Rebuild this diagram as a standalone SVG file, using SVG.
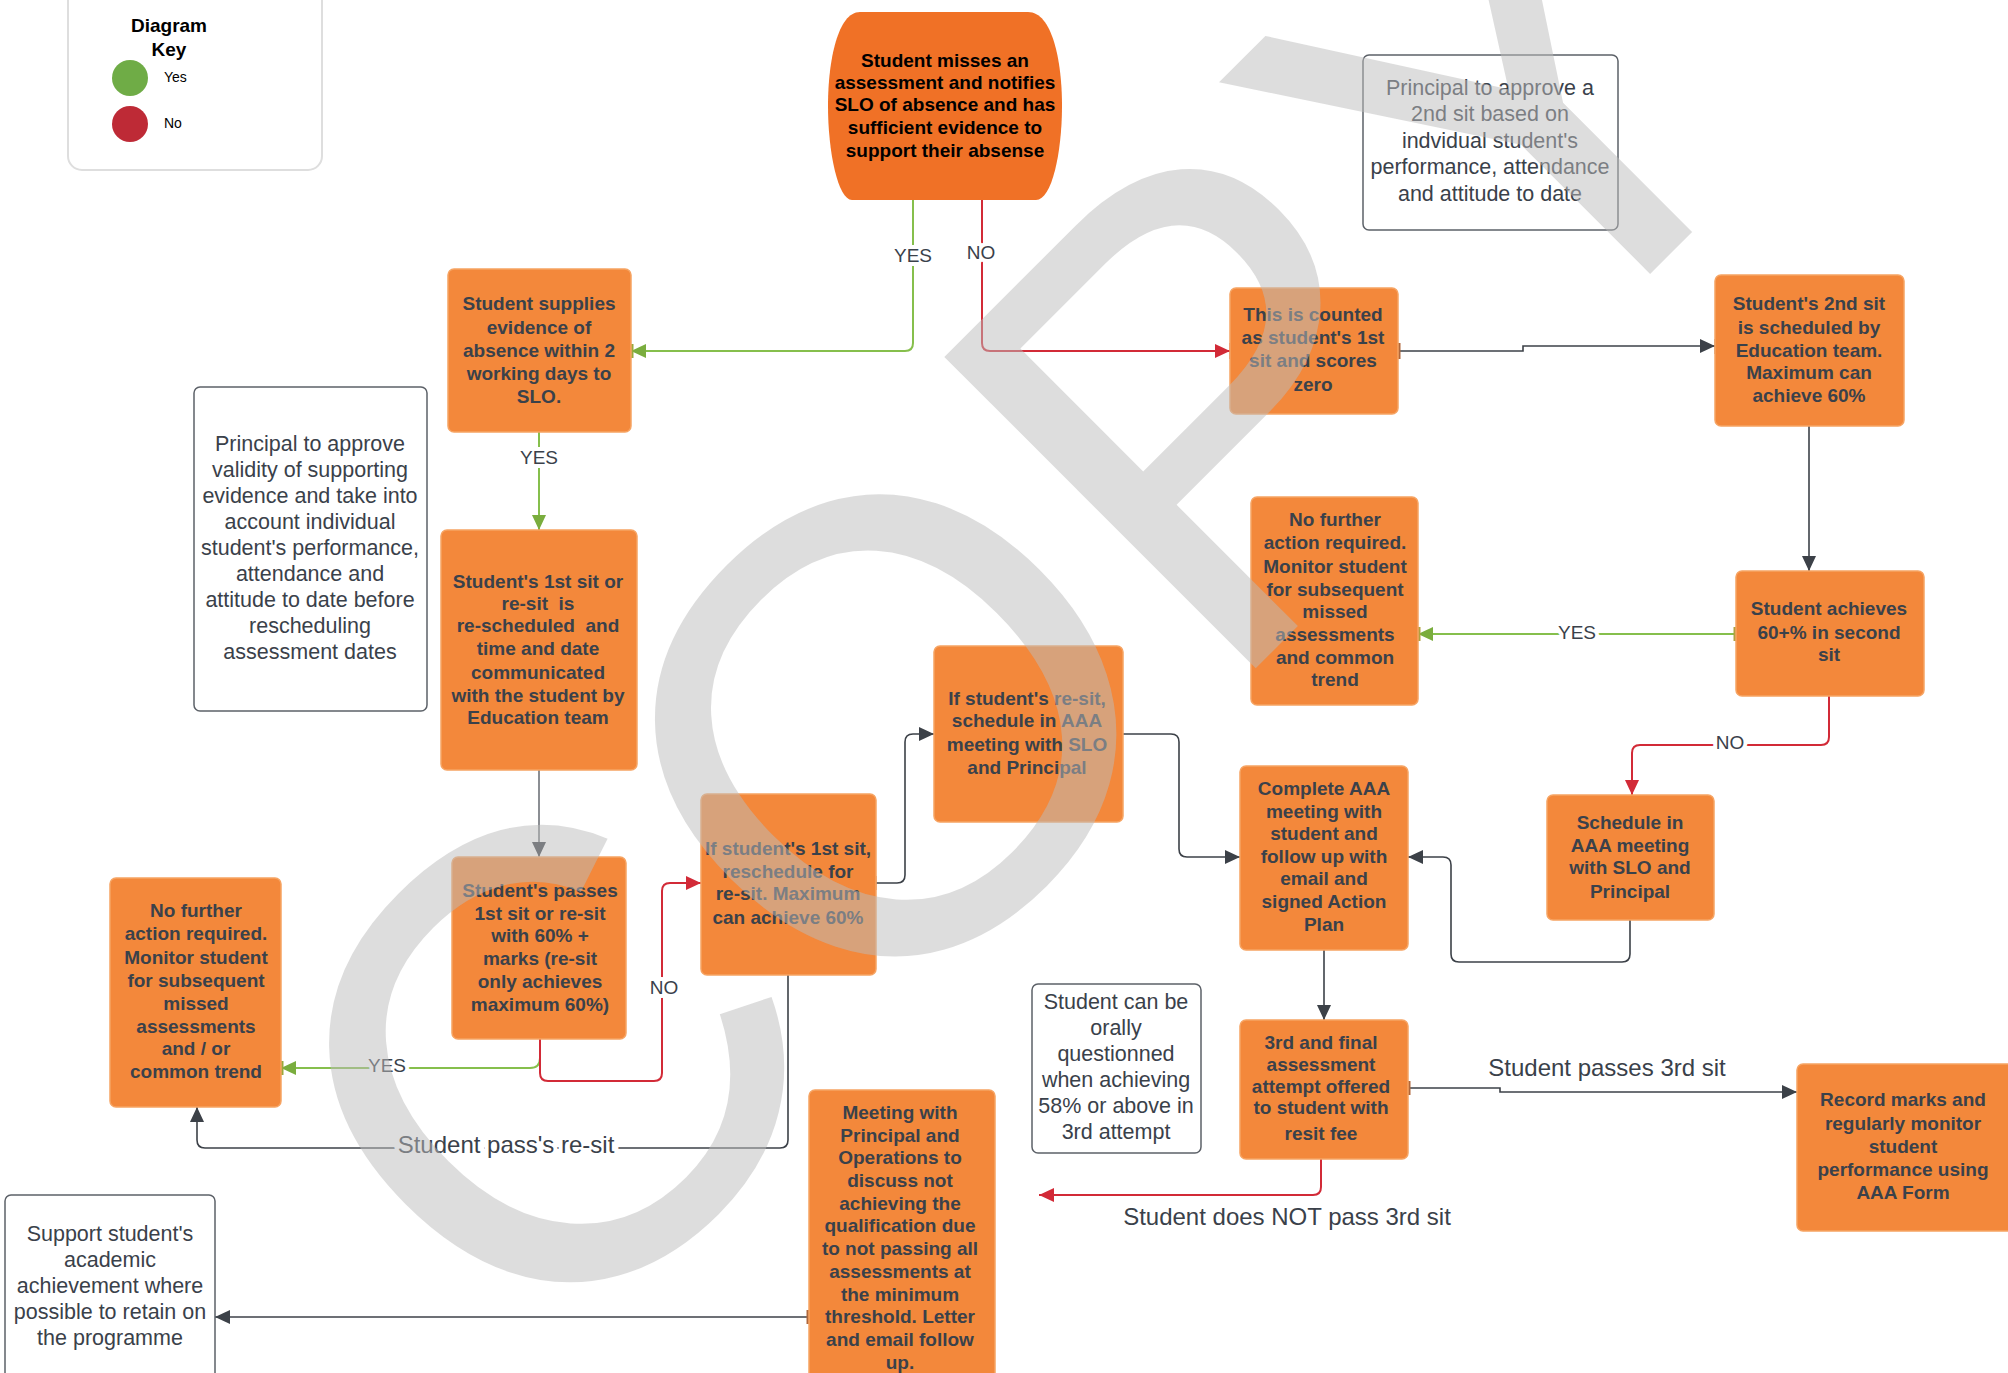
<svg xmlns="http://www.w3.org/2000/svg" width="2008" height="1373" viewBox="0 0 2008 1373">
<defs>
<style>
.box{fill:#f3883b;stroke:#f6a463;stroke-width:1.5}
.note{fill:#fff;stroke:#5c6168;stroke-width:1.5}
.bt{font-family:"Liberation Sans",Arial,sans-serif;font-weight:bold;font-size:19px;fill:#3a414a;text-anchor:middle}
.rt{font-family:"Liberation Sans",Arial,sans-serif;font-size:21.5px;fill:#3a414a;text-anchor:middle}
.lbl{font-family:"Liberation Sans",Arial,sans-serif;font-size:19px;fill:#3a414a;text-anchor:middle;stroke:#fff;stroke-width:8px;paint-order:stroke;stroke-linejoin:round}
.big{font-family:"Liberation Sans",Arial,sans-serif;font-size:24px;fill:#3a414a;text-anchor:middle}
.g{fill:none;stroke:#86bf4c;stroke-width:2}
.r{fill:none;stroke:#d22a37;stroke-width:2}
.d{fill:none;stroke:#3c4148;stroke-width:1.6}
.tk{stroke-width:3;fill:none}
</style>
<marker id="ag" markerUnits="userSpaceOnUse" markerWidth="16" markerHeight="14" refX="15" refY="7" orient="auto"><path d="M0,0 L15,7 L0,14 z" fill="#7aad3e"/></marker>
<marker id="ar" markerUnits="userSpaceOnUse" markerWidth="16" markerHeight="14" refX="15" refY="7" orient="auto"><path d="M0,0 L15,7 L0,14 z" fill="#d22a37"/></marker>
<marker id="ad" markerUnits="userSpaceOnUse" markerWidth="16" markerHeight="14" refX="15" refY="7" orient="auto"><path d="M0,0 L15,7 L0,14 z" fill="#3c4148"/></marker>
</defs>
<rect width="2008" height="1373" fill="#fff"/>

<g id="key">
<rect x="68" y="-20" width="254" height="190" rx="14" fill="#fff" stroke="#dedede" stroke-width="2"/>
<text x="169" y="32" class="bt" style="fill:#000">Diagram</text>
<text x="169" y="56" class="bt" style="fill:#000">Key</text>
<circle cx="130" cy="78" r="18" fill="#6fac46"/>
<circle cx="130" cy="124" r="18" fill="#be2a36"/>
<text x="164" y="82" font-family="Liberation Sans,Arial,sans-serif" font-size="14" fill="#000">Yes</text>
<text x="164" y="128" font-family="Liberation Sans,Arial,sans-serif" font-size="14" fill="#000">No</text>
</g>

<g id="connectors">
<path class="g" d="M913,200 V343 Q913,351 905,351 H631" marker-end="url(#ag)"/>
<text x="913" y="262" class="lbl">YES</text>
<path class="r" d="M982,200 V343 Q982,351 990,351 H1230" marker-end="url(#ar)"/>
<text x="981" y="259" class="lbl">NO</text>
<path class="d" d="M1398,351 H1523 V346 H1715" marker-end="url(#ad)"/>
<path class="g" d="M539,432 V530" marker-end="url(#ag)"/>
<text x="539" y="464" class="lbl">YES</text>
<path class="d" d="M539,770 V857" style="stroke:#6e7278" marker-end="url(#ad)"/>
<path class="g" d="M540,1039 V1058 Q540,1068 530,1068 H281" marker-end="url(#ag)"/>
<text x="387" y="1072" class="lbl">YES</text>
<path class="r" d="M540,1039 V1073 Q540,1081 548,1081 H654 Q662,1081 662,1073 V891 Q662,883 670,883 H701" marker-end="url(#ar)"/>
<text x="664" y="994" class="lbl">NO</text>
<path class="d" d="M876,883 H897 Q905,883 905,875 V742 Q905,734 913,734 H934" marker-end="url(#ad)"/>
<path class="d" d="M788,975 V1140 Q788,1148 780,1148 H205 Q197,1148 197,1140 V1107" marker-end="url(#ad)"/>
<text x="506" y="1153" class="big" style="stroke:#fff;stroke-width:8px;paint-order:stroke">Student pass's re-sit</text>
<path class="d" d="M1123,734 H1171 Q1179,734 1179,742 V849 Q1179,857 1187,857 H1240" marker-end="url(#ad)"/>
<path class="d" d="M1809,426 V571" marker-end="url(#ad)"/>
<path class="g" d="M1736,634 H1418" marker-end="url(#ag)"/>
<text x="1577" y="639" class="lbl">YES</text>
<path class="r" d="M1829,696 V737 Q1829,745 1821,745 H1640 Q1632,745 1632,753 V795" marker-end="url(#ar)"/>
<text x="1730" y="749" class="lbl">NO</text>
<path class="d" d="M1630,920 V954 Q1630,962 1622,962 H1459 Q1451,962 1451,954 V865 Q1451,857 1443,857 H1408" marker-end="url(#ad)"/>
<path class="d" d="M1324,950 V1020" marker-end="url(#ad)"/>
<path class="d" d="M1408,1088 H1500 V1092 H1797" marker-end="url(#ad)"/>
<text x="1607" y="1076" class="big">Student passes 3rd sit</text>
<path class="r" d="M1321,1159 V1187 Q1321,1195 1313,1195 H1039" marker-end="url(#ar)"/>
<text x="1287" y="1225" class="big">Student does NOT pass 3rd sit</text>
<path class="d" d="M809,1317 H215" marker-end="url(#ad)"/>
<path class="tk" stroke="#d22a37" d="M1231,343 V359"/>
<path class="tk" stroke="#9aa83c" d="M632,344 V358"/>
<path class="tk" stroke="#b0673a" d="M1399,343 V359"/>
<path class="tk" stroke="#8a5a3a" d="M1716,339 V354"/>
<path class="tk" stroke="#b0a040" d="M1735,627 V641"/>
<path class="tk" stroke="#b0a040" d="M1419,627 V641"/>
<path class="tk" stroke="#9aa83c" d="M282,1061 V1075"/>
<path class="tk" stroke="#b0673a" d="M875,876 V890"/>
<path class="tk" stroke="#b0673a" d="M1409,1081 V1095"/>
<path class="tk" stroke="#b0673a" d="M808,1310 V1324"/>
</g>

<g id="start">
<path d="M860,12 H1028 C1052,12 1062,60 1062,106 C1062,152 1052,200 1036,200 H852 C838,200 828,152 828,106 C828,60 838,12 860,12 Z" fill="#f07126"/>
<text class="bt" style="fill:#000"><tspan x="945" y="67">Student misses an</tspan><tspan x="945" y="89">assessment and notifies</tspan><tspan x="945" y="111">SLO of absence and has</tspan><tspan x="945" y="134">sufficient evidence to</tspan><tspan x="945" y="157">support their absense</tspan></text>
</g>

<g id="supplies">
<rect class="box" x="448" y="269" width="183" height="163" rx="6"/>
<text class="bt"><tspan x="539" y="310">Student supplies</tspan><tspan x="539" y="334">evidence of</tspan><tspan x="539" y="357">absence within 2</tspan><tspan x="539" y="380">working days to</tspan><tspan x="539" y="403">SLO.</tspan></text>
</g>

<g id="principal-validity">
<rect class="note" x="194" y="387" width="233" height="324" rx="6"/>
<text class="rt"><tspan x="310" y="451">Principal to approve</tspan><tspan x="310" y="477">validity of supporting</tspan><tspan x="310" y="503">evidence and take into</tspan><tspan x="310" y="529">account individual</tspan><tspan x="310" y="555">student's performance,</tspan><tspan x="310" y="581">attendance and</tspan><tspan x="310" y="607">attitude to date before</tspan><tspan x="310" y="633">rescheduling</tspan><tspan x="310" y="659">assessment dates</tspan></text>
</g>

<g id="rescheduled">
<rect class="box" x="441" y="530" width="196" height="240" rx="6"/>
<text class="bt"><tspan x="538" y="588">Student's 1st sit or</tspan><tspan x="538" y="610">re-sit &#160;is</tspan><tspan x="538" y="632">re-scheduled &#160;and</tspan><tspan x="538" y="655">time and date</tspan><tspan x="538" y="679">communicated</tspan><tspan x="538" y="702">with the student by</tspan><tspan x="538" y="724">Education team</tspan></text>
</g>

<g id="passes">
<rect class="box" x="452" y="857" width="174" height="182" rx="6"/>
<text class="bt"><tspan x="540" y="897">Student's passes</tspan><tspan x="540" y="920">1st sit or re-sit</tspan><tspan x="540" y="942">with 60% +</tspan><tspan x="540" y="965">marks (re-sit</tspan><tspan x="540" y="988">only achieves</tspan><tspan x="540" y="1011">maximum 60%)</tspan></text>
</g>

<g id="no-further-left">
<rect class="box" x="110" y="878" width="171" height="229" rx="6"/>
<text class="bt"><tspan x="196" y="917">No further</tspan><tspan x="196" y="940">action required.</tspan><tspan x="196" y="964">Monitor student</tspan><tspan x="196" y="987">for subsequent</tspan><tspan x="196" y="1010">missed</tspan><tspan x="196" y="1033">assessments</tspan><tspan x="196" y="1055">and / or</tspan><tspan x="196" y="1078">common trend</tspan></text>
</g>

<g id="if-first-sit">
<rect class="box" x="701" y="794" width="175" height="181" rx="6"/>
<text class="bt"><tspan x="788" y="855">If student's 1st sit,</tspan><tspan x="788" y="878">reschedule for</tspan><tspan x="788" y="900">re-sit. Maximum</tspan><tspan x="788" y="924">can achieve 60%</tspan></text>
</g>

<g id="if-resit">
<rect class="box" x="934" y="646" width="189" height="176" rx="6"/>
<text class="bt"><tspan x="1027" y="705">If student's re-sit,</tspan><tspan x="1027" y="727">schedule in AAA</tspan><tspan x="1027" y="751">meeting with SLO</tspan><tspan x="1027" y="774">and Principal</tspan></text>
</g>

<g id="counted">
<rect class="box" x="1230" y="288" width="168" height="126" rx="6"/>
<text class="bt"><tspan x="1313" y="321">This is counted</tspan><tspan x="1313" y="344">as student's 1st</tspan><tspan x="1313" y="367">sit and scores</tspan><tspan x="1313" y="391">zero</tspan></text>
</g>

<g id="principal-second">
<rect class="note" x="1363" y="55" width="255" height="175" rx="6"/>
<text class="rt"><tspan x="1490" y="95">Principal to approve a</tspan><tspan x="1490" y="121">2nd sit based on</tspan><tspan x="1490" y="148">indvidual student's</tspan><tspan x="1490" y="174">performance, attendance</tspan><tspan x="1490" y="201">and attitude to date</tspan></text>
</g>

<g id="second-sit">
<rect class="box" x="1715" y="275" width="189" height="151" rx="6"/>
<text class="bt"><tspan x="1809" y="310">Student's 2nd sit</tspan><tspan x="1809" y="334">is scheduled by</tspan><tspan x="1809" y="357">Education team.</tspan><tspan x="1809" y="379">Maximum can</tspan><tspan x="1809" y="402">achieve 60%</tspan></text>
</g>

<g id="no-further-right">
<rect class="box" x="1251" y="497" width="167" height="208" rx="6"/>
<text class="bt"><tspan x="1335" y="526">No further</tspan><tspan x="1335" y="549">action required.</tspan><tspan x="1335" y="573">Monitor student</tspan><tspan x="1335" y="596">for subsequent</tspan><tspan x="1335" y="618">missed</tspan><tspan x="1335" y="641">assessments</tspan><tspan x="1335" y="664">and common</tspan><tspan x="1335" y="686">trend</tspan></text>
</g>

<g id="achieves">
<rect class="box" x="1736" y="571" width="188" height="125" rx="6"/>
<text class="bt"><tspan x="1829" y="615">Student achieves</tspan><tspan x="1829" y="639">60+% in second</tspan><tspan x="1829" y="661">sit</tspan></text>
</g>

<g id="schedule">
<rect class="box" x="1547" y="795" width="167" height="125" rx="6"/>
<text class="bt"><tspan x="1630" y="829">Schedule in</tspan><tspan x="1630" y="852">AAA meeting</tspan><tspan x="1630" y="874">with SLO and</tspan><tspan x="1630" y="898">Principal</tspan></text>
</g>

<g id="complete">
<rect class="box" x="1240" y="766" width="168" height="184" rx="6"/>
<text class="bt"><tspan x="1324" y="795">Complete AAA</tspan><tspan x="1324" y="818">meeting with</tspan><tspan x="1324" y="840">student and</tspan><tspan x="1324" y="863">follow up with</tspan><tspan x="1324" y="885">email and</tspan><tspan x="1324" y="908">signed Action</tspan><tspan x="1324" y="931">Plan</tspan></text>
</g>

<g id="orally">
<rect class="note" x="1032" y="984" width="169" height="169" rx="6"/>
<text class="rt"><tspan x="1116" y="1009">Student can be</tspan><tspan x="1116" y="1035">orally</tspan><tspan x="1116" y="1061">questionned</tspan><tspan x="1116" y="1087">when achieving</tspan><tspan x="1116" y="1113">58% or above in</tspan><tspan x="1116" y="1139">3rd attempt</tspan></text>
</g>

<g id="third">
<rect class="box" x="1240" y="1020" width="168" height="139" rx="6"/>
<text class="bt"><tspan x="1321" y="1049">3rd and final</tspan><tspan x="1321" y="1071">assessment</tspan><tspan x="1321" y="1093">attempt offered</tspan><tspan x="1321" y="1114">to student with</tspan><tspan x="1321" y="1140">resit fee</tspan></text>
</g>

<g id="record">
<rect class="box" x="1797" y="1064" width="220" height="167" rx="6"/>
<text class="bt"><tspan x="1903" y="1106">Record marks and</tspan><tspan x="1903" y="1130">regularly monitor</tspan><tspan x="1903" y="1153">student</tspan><tspan x="1903" y="1176">performance using</tspan><tspan x="1903" y="1199">AAA Form</tspan></text>
</g>

<g id="meeting">
<rect class="box" x="809" y="1090" width="186" height="300" rx="6"/>
<text class="bt"><tspan x="900" y="1119">Meeting with</tspan><tspan x="900" y="1142">Principal and</tspan><tspan x="900" y="1164">Operations to</tspan><tspan x="900" y="1187">discuss not</tspan><tspan x="900" y="1210">achieving the</tspan><tspan x="900" y="1232">qualification due</tspan><tspan x="900" y="1255">to not passing all</tspan><tspan x="900" y="1278">assessments at</tspan><tspan x="900" y="1301">the minimum</tspan><tspan x="900" y="1323">threshold. Letter</tspan><tspan x="900" y="1346">and email follow</tspan><tspan x="900" y="1369">up.</tspan></text>
</g>

<g id="support">
<rect class="note" x="5" y="1195" width="210" height="200" rx="6"/>
<text class="rt"><tspan x="110" y="1241">Support student's</tspan><tspan x="110" y="1267">academic</tspan><tspan x="110" y="1293">achievement where</tspan><tspan x="110" y="1319">possible to retain on</tspan><tspan x="110" y="1345">the programme</tspan></text>
</g>

<g id="watermark">
<text x="0" y="0" transform="translate(1181,743) rotate(-45)" text-anchor="middle" font-family="Liberation Sans,Arial,sans-serif" font-size="640" fill="#bcbcbc" fill-opacity="0.5">COPY</text>
</g>
</svg>
